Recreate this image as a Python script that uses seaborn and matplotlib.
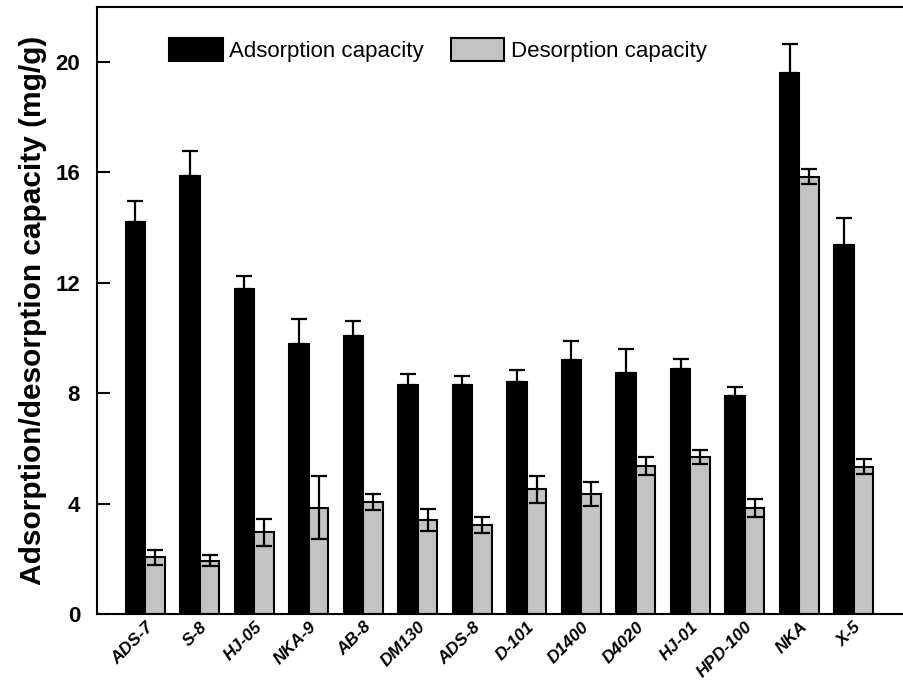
#!/usr/bin/env python

import numpy as np
import pandas as pd
import seaborn as sns
import matplotlib.pyplot as plt

# resin names along the x axis
resins = ['ADS-7', 'S-8', 'HJ-05', 'NKA-9', 'AB-8', 'DM130', 'ADS-8',
          'D-101', 'D1400', 'D4020', 'HJ-01', 'HPD-100', 'NKA', 'X-5']

# capacities in mg/g and their error bars
adsorption = [14.2, 15.88, 11.78, 9.78, 10.08, 8.29, 8.30,
              8.42, 9.20, 8.73, 8.88, 7.91, 19.61, 13.37]
adsorption_err = [0.76, 0.90, 0.48, 0.90, 0.53, 0.39, 0.31,
                  0.42, 0.70, 0.88, 0.37, 0.30, 1.04, 0.99]
desorption = [2.06, 1.93, 2.96, 3.85, 4.05, 3.39, 3.22,
              4.52, 4.35, 5.36, 5.69, 3.85, 15.85, 5.34]
desorption_err = [0.27, 0.21, 0.49, 1.13, 0.28, 0.40, 0.28,
                  0.49, 0.43, 0.31, 0.25, 0.32, 0.28, 0.28]

series = ['Adsorption capacity', 'Desorption capacity']


def plot_capacity(save_path='out.png'):
    df = pd.DataFrame({
        'Resin': resins * 2,
        'Capacity': adsorption + desorption,
        'Type': [series[0]] * len(resins) + [series[1]] * len(resins),
    })

    sns.set_style('ticks')
    plt.rcParams['font.family'] = ['Liberation Sans', 'DejaVu Sans']
    # seaborn greys out text and spines, the figure wants pure black
    for key in ['text.color', 'axes.labelcolor', 'xtick.color',
                'ytick.color', 'axes.edgecolor']:
        plt.rcParams[key] = 'black'

    fig = plt.figure(figsize=(9.04, 6.89), dpi=100)
    ax = fig.add_axes([0.107, 0.109, 0.893, 0.881])

    sns.barplot(data=df, x='Resin', y='Capacity', hue='Type', order=resins,
                hue_order=series, palette=['black', '#c3c3c3'], width=0.72,
                edgecolor='black', linewidth=1.5, errorbar=None, ax=ax)

    # error bars: adsorption only upward, desorption both ways
    errs = [(np.zeros(len(resins)), adsorption_err),
            (desorption_err, desorption_err)]
    for container, (lo, hi) in zip(ax.containers, errs):
        xs = [b.get_x() + b.get_width() / 2 for b in container]
        ys = [b.get_height() for b in container]
        ax.errorbar(xs, ys, yerr=[lo, hi], fmt='none', ecolor='black',
                    elinewidth=1.6, capsize=6, capthick=1.6, zorder=3)

    ax.set_xlim(-0.89, 13.92)
    ax.set_ylim(0, 22)
    ax.set_yticks([0, 4, 8, 12, 16, 20])
    ax.tick_params(axis='y', direction='in', length=9, width=1.5,
                   labelsize=16, pad=12)
    ax.tick_params(axis='x', length=0, pad=4)
    for lab in ax.get_yticklabels():
        lab.set_fontweight('bold')
    ax.set_xticks(range(len(resins)))
    ax.set_xticklabels(resins, rotation=45, ha='right', rotation_mode='anchor',
                       fontsize=12.5, fontweight='bold', fontstyle='italic')

    ax.set_xlabel('')
    ax.set_ylabel('Adsorption/desorption capacity (mg/g)', fontsize=21.5,
                  fontweight='bold', labelpad=6)

    ax.spines['right'].set_visible(False)
    for side in ['left', 'top', 'bottom']:
        ax.spines[side].set_linewidth(1.5)

    ax.legend(loc='upper left', bbox_to_anchor=(0.09, 0.948), ncol=2,
              frameon=False, fontsize=16, handlelength=2.4, handleheight=1.2,
              handletextpad=0.3, columnspacing=1.2, borderpad=0,
              borderaxespad=0)

    fig.savefig(save_path, dpi=100)


if __name__ == '__main__':
    plot_capacity()
